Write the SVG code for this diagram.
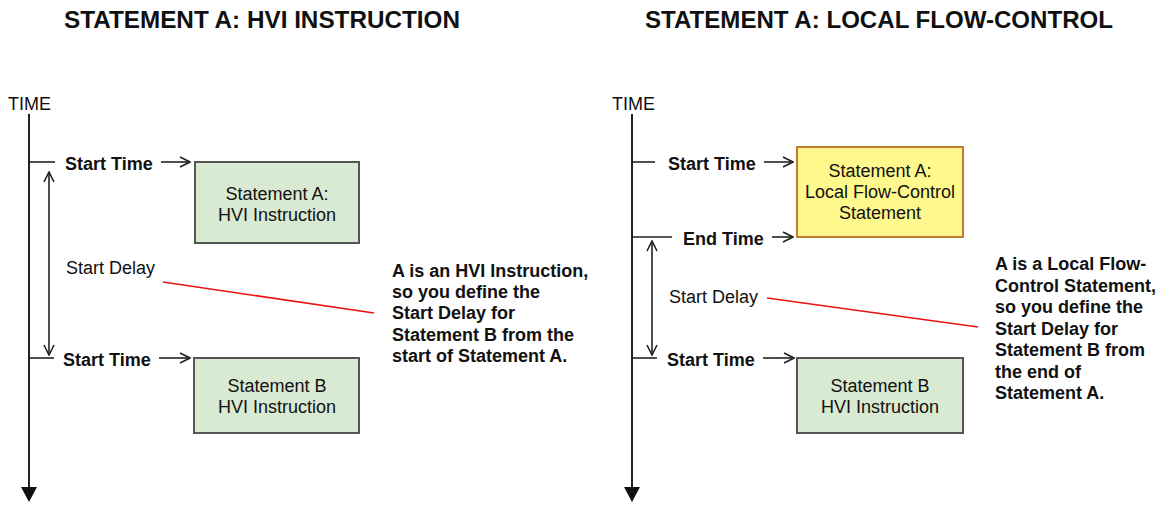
<svg xmlns="http://www.w3.org/2000/svg" width="1164" height="506" viewBox="0 0 1164 506">
<style>
text{font-family:"Liberation Sans",Arial,sans-serif;fill:#111}
.title{font-size:23.5px;font-weight:bold}
.lbl{font-size:18px}
.b{font-size:18px;font-weight:bold}
.axis{stroke:#222;stroke-width:2;fill:none}
.tick{stroke:#222;stroke-width:1.6;fill:none}
.arr{stroke:#222;stroke-width:1.6;fill:none;marker-end:url(#open)}
.dbl{stroke:#222;stroke-width:1.6;fill:none;marker-start:url(#open);marker-end:url(#open)}
.red{stroke:#ee1111;stroke-width:1.5;fill:none}
.green{fill:#d9ead3;stroke:#555;stroke-width:2}
.yellow{fill:#fff88c;stroke:#c27a2e;stroke-width:2}
.c{text-anchor:middle}
</style>
<defs>
<marker id="open" viewBox="0 0 12 12" refX="11" refY="6" markerWidth="12" markerHeight="12" markerUnits="userSpaceOnUse" orient="auto-start-reverse">
<path d="M1,1 L11,6 L1,11" fill="none" stroke="#222" stroke-width="1.6"/>
</marker>
</defs>

<g id="titles">
<text class="title" x="64" y="28" textLength="396" lengthAdjust="spacingAndGlyphs">STATEMENT A: HVI INSTRUCTION</text>
<text class="title" x="645" y="28" textLength="468" lengthAdjust="spacingAndGlyphs">STATEMENT A: LOCAL FLOW-CONTROL</text>
</g>

<g id="left-axis">
<text class="lbl" x="8" y="110">TIME</text>
<line class="axis" x1="29" y1="114" x2="29" y2="488"/>
<polygon points="21,487 37,487 29,502" fill="#111"/>
</g>

<g id="right-axis">
<text class="lbl" x="612" y="110">TIME</text>
<line class="axis" x1="632" y1="114" x2="632" y2="488"/>
<polygon points="624,487 640,487 632,502" fill="#111"/>
</g>

<g id="connectors">
<line class="tick" x1="29" y1="162" x2="55" y2="162"/>
<line class="arr" x1="161" y1="162" x2="190" y2="162"/>
<line class="tick" x1="29" y1="358" x2="54" y2="358"/>
<line class="arr" x1="159" y1="358" x2="190" y2="358"/>
<line class="dbl" x1="49" y1="172" x2="49" y2="355"/>
<line class="red" x1="163" y1="282" x2="374" y2="313"/>

<line class="tick" x1="632" y1="162" x2="655" y2="162"/>
<line class="arr" x1="764" y1="162" x2="793" y2="162"/>
<line class="tick" x1="632" y1="237" x2="672" y2="237"/>
<line class="arr" x1="772" y1="237" x2="793" y2="237"/>
<line class="tick" x1="632" y1="358" x2="657" y2="358"/>
<line class="arr" x1="763" y1="358" x2="794" y2="358"/>
<line class="dbl" x1="652" y1="241" x2="652" y2="355"/>
<line class="red" x1="767" y1="298" x2="978" y2="327"/>
</g>

<g id="left-labels">
<text class="b" x="65" y="170">Start Time</text>
<text class="b" x="63" y="366">Start Time</text>
<text class="lbl" x="66" y="274">Start Delay</text>
</g>

<g id="right-labels">
<text class="b" x="668" y="170">Start Time</text>
<text class="b" x="683" y="245">End Time</text>
<text class="b" x="667" y="366">Start Time</text>
<text class="lbl" x="669" y="303">Start Delay</text>
</g>

<g id="left-statement-a">
<rect class="green" x="195" y="162" width="164" height="81"/>
<text class="lbl c" x="277" y="200">Statement A:</text>
<text class="lbl c" x="277" y="221">HVI Instruction</text>
</g>

<g id="left-statement-b">
<rect class="green" x="194" y="358" width="165" height="75"/>
<text class="lbl c" x="277" y="392">Statement B</text>
<text class="lbl c" x="277" y="413">HVI Instruction</text>
</g>

<g id="right-statement-a">
<rect class="yellow" x="797" y="147" width="166" height="90"/>
<text class="lbl c" x="880" y="177">Statement A:</text>
<text class="lbl c" x="880" y="198">Local Flow-Control</text>
<text class="lbl c" x="880" y="219">Statement</text>
</g>

<g id="right-statement-b">
<rect class="green" x="797" y="358" width="166" height="75"/>
<text class="lbl c" x="880" y="392">Statement B</text>
<text class="lbl c" x="880" y="413">HVI Instruction</text>
</g>

<g id="left-note">
<text class="b" x="392" y="277">A is an HVI Instruction,</text>
<text class="b" x="392" y="298">so you define the</text>
<text class="b" x="392" y="319">Start Delay for</text>
<text class="b" x="392" y="341">Statement B from the</text>
<text class="b" x="392" y="362">start of Statement A.</text>
</g>

<g id="right-note">
<text class="b" x="995" y="270">A is a Local Flow-</text>
<text class="b" x="995" y="291.5">Control Statement,</text>
<text class="b" x="995" y="313">so you define the</text>
<text class="b" x="995" y="334.5">Start Delay for</text>
<text class="b" x="995" y="356">Statement B from</text>
<text class="b" x="995" y="377.5">the end of</text>
<text class="b" x="995" y="399">Statement A.</text>
</g>
</svg>
